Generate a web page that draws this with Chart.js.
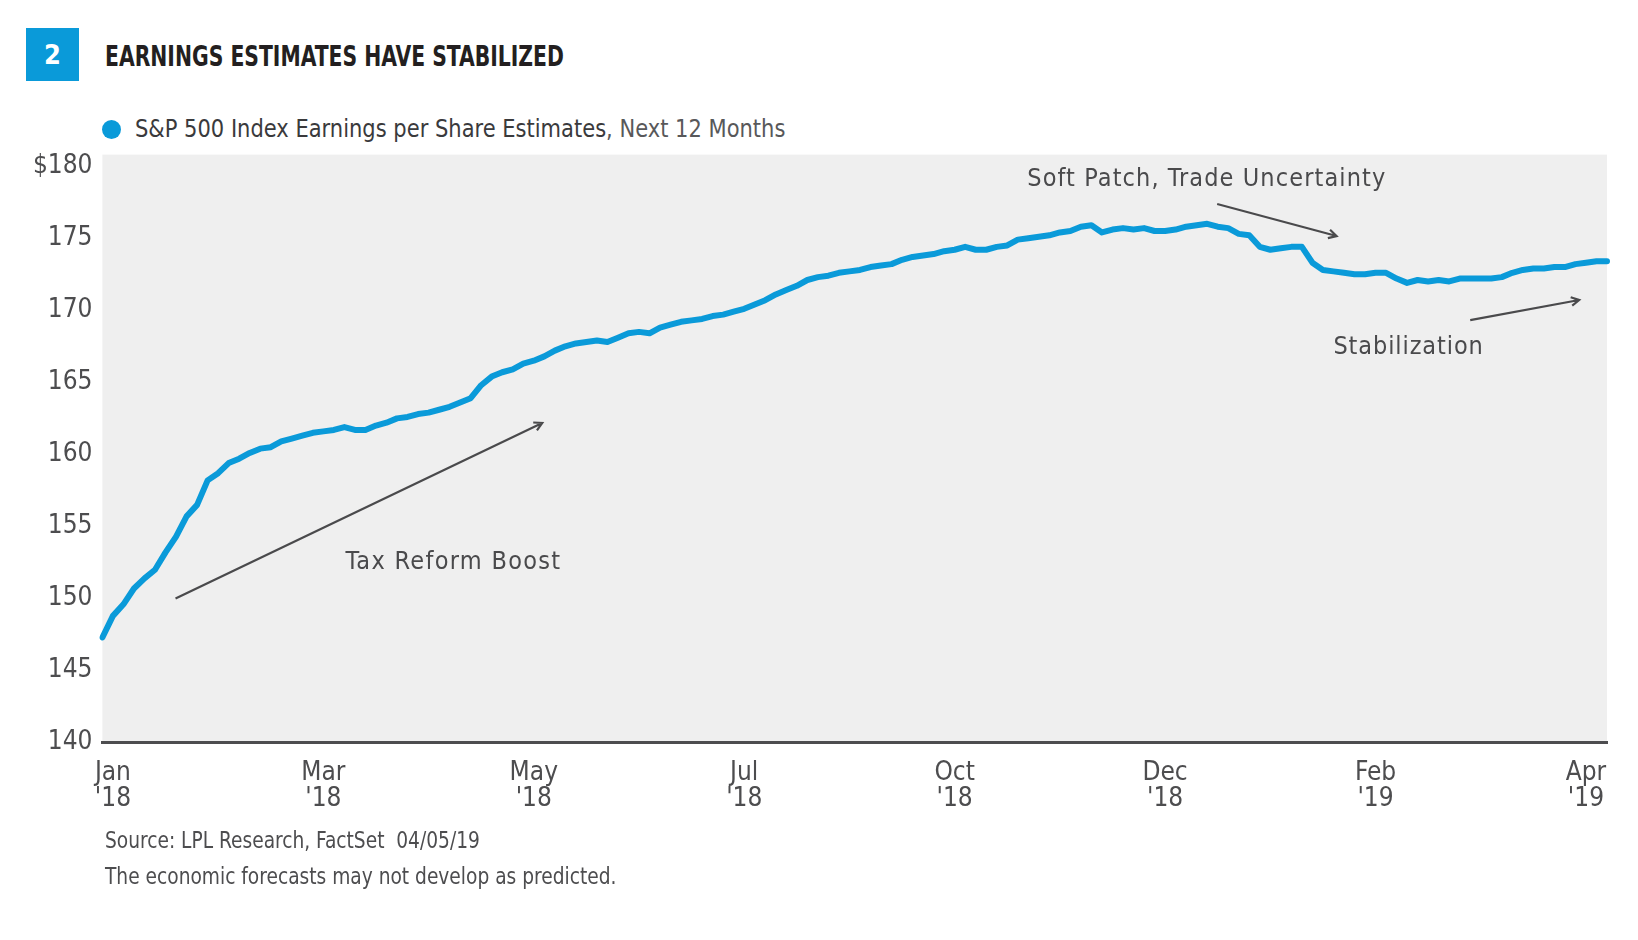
<!DOCTYPE html>
<html>
<head>
<meta charset="utf-8">
<script src="https://cdn.jsdelivr.net/npm/chart.js@4.4.1/dist/chart.umd.min.js"></script>
<style>
    html, body { margin: 0; padding: 0; background: #ffffff; }
    #wrap { position: relative; width: 1638px; height: 940px; overflow: hidden;
            font-family: 'Liberation Sans Narrow', 'DejaVu Sans Condensed', sans-serif; }
    #epsChart { position: absolute; left: 0; top: 0; }
    .badge { position: absolute; left: 26px; top: 28px; width: 53px; height: 53px; background: #0a9ad9;
             color: #fff; font-weight: bold; font-size: 27px; display: flex; align-items: center; justify-content: center; }
    .title { position: absolute; left: 105px; top: 42px; font-size: 29px; line-height: 29px; font-weight: bold;
             color: #231f20; white-space: nowrap; transform: scaleX(0.78); transform-origin: 0 0; }
    .legend { position: absolute; left: 102px; top: 116px; font-size: 25px; line-height: 25px; white-space: nowrap; }
    .legend .dot { display: inline-block; width: 19px; height: 19px; border-radius: 50%; background: #0a9ad9;
                   margin-right: 14px; vertical-align: -2px; }
    .legend .txt { display: inline-block; transform: scaleX(0.935); transform-origin: 0 0; }
    .legend .lg1 { color: #3a3a3c; }
    .legend .lg2 { color: #58585a; }
    .source { position: absolute; left: 105px; top: 822px; font-size: 23px; line-height: 36px; color: #4d4d4f;
              white-space: pre; transform: scaleX(0.9); transform-origin: 0 0; }
</style>
</head>
<body>
<div id="wrap">
    <div class="badge">2</div>
    <div class="title">EARNINGS ESTIMATES HAVE STABILIZED</div>
    <div class="legend"><span class="dot"></span><span class="txt"><span class="lg1">S&amp;P 500 Index Earnings per Share Estimates</span><span class="lg2">, Next 12 Months</span></span></div>
    <canvas id="epsChart" width="1638" height="940"></canvas>
    <div class="source">Source: LPL Research, FactSet  04/05/19
The economic forecasts may not develop as predicted.</div>
</div>

<script>
// Tick labels (one every 20 observations, starting at the 2nd)
const tickMonths = ['Jan', 'Mar', 'May', 'Jul', 'Oct', 'Dec', 'Feb', 'Apr'];
const tickYears = ["'18", "'18", "'18", "'18", "'18", "'18", "'19", "'19"];
const firstTick = 1;
const tickEvery = 20;
const yTicks = [140, 145, 150, 155, 160, 165, 170, 175, 180];

// S&P 500 forward 12m EPS estimates (Jan '18 - Apr '19)
const epsValues = [
    147.3, 148.8, 149.6, 150.7, 151.4, 152.0, 153.2, 154.3, 155.7, 156.5,
    158.2, 158.7, 159.4, 159.7, 160.1, 160.4, 160.5, 160.9, 161.1, 161.3,
    161.5, 161.6, 161.7, 161.9, 161.7, 161.7, 162.0, 162.2, 162.5, 162.6,
    162.8, 162.9, 163.1, 163.3, 163.6, 163.9, 164.8, 165.4, 165.7, 165.9,
    166.3, 166.5, 166.8, 167.2, 167.5, 167.7, 167.8, 167.9, 167.8, 168.1,
    168.4, 168.5, 168.4, 168.8, 169.0, 169.2, 169.3, 169.4, 169.6, 169.7,
    169.9, 170.1, 170.4, 170.7, 171.1, 171.4, 171.7, 172.1, 172.3, 172.4,
    172.6, 172.7, 172.8, 173.0, 173.1, 173.2, 173.5, 173.7, 173.8, 173.9,
    174.1, 174.2, 174.4, 174.2, 174.2, 174.4, 174.5, 174.9, 175.0, 175.1,
    175.2, 175.4, 175.5, 175.8, 175.9, 175.4, 175.6, 175.7, 175.6, 175.7,
    175.5, 175.5, 175.6, 175.8, 175.9, 176.0, 175.8, 175.7, 175.3, 175.2,
    174.4, 174.2, 174.3, 174.4, 174.4, 173.3, 172.8, 172.7, 172.6, 172.5,
    172.5, 172.6, 172.6, 172.2, 171.9, 172.1, 172.0, 172.1, 172.0, 172.2,
    172.2, 172.2, 172.2, 172.3, 172.6, 172.8, 172.9, 172.9, 173.0, 173.0,
    173.2, 173.3, 173.4, 173.4
];

// Annotations, anchored in data space (x = observation index, y = EPS)
const notes = [
    { text: 'Tax Reform Boost', x: 23.1, y: 152.5, spacing: 1.3 },
    { text: 'Soft Patch, Trade Uncertainty', x: 87.9, y: 179.1, spacing: 1.1 },
    { text: 'Stabilization', x: 117.0, y: 167.45, spacing: 0.9 }
];
const arrows = [
    { x0: 6.95, y0: 150.0, x1: 41.8, y1: 162.18 },
    { x0: 105.95, y0: 177.37, x1: 117.3, y1: 175.15 },
    { x0: 130.0, y0: 169.32, x1: 140.36, y1: 170.71 }
];

const colors = {
    line: '#0a9ad9',
    plotBg: '#efefef',
    axis: '#4d4d4f',
    text: '#4d4d4f',
    note: '#4a4a4c'
};
const fontFamily = "'Liberation Sans Narrow', 'DejaVu Sans Condensed', sans-serif";

const xLabels = epsValues.map((v, i) => {
    const k = (i - firstTick) / tickEvery;
    return (Number.isInteger(k) && k >= 0 && k < tickMonths.length) ? [tickMonths[k], tickYears[k]] : '';
});

// Grey plot background
const plotBackground = {
    id: 'plotBackground',
    beforeDraw(chart) {
        const { ctx, chartArea } = chart;
        ctx.save();
        ctx.fillStyle = colors.plotBg;
        ctx.fillRect(chartArea.left, chartArea.top, chartArea.right - chartArea.left, chartArea.bottom - chartArea.top);
        ctx.restore();
    }
};

// Text notes and arrows
const notesPlugin = {
    id: 'notesPlugin',
    afterDatasetsDraw(chart) {
        const { ctx } = chart;
        const xs = chart.scales.x, ys = chart.scales.y;
        ctx.save();
        ctx.strokeStyle = colors.note;
        ctx.lineWidth = 2.2;
        arrows.forEach(a => {
            const x0 = xs.getPixelForValue(a.x0), y0 = ys.getPixelForValue(a.y0);
            const x1 = xs.getPixelForValue(a.x1), y1 = ys.getPixelForValue(a.y1);
            const ang = Math.atan2(y1 - y0, x1 - x0);
            ctx.beginPath();
            ctx.moveTo(x0, y0);
            ctx.lineTo(x1, y1);
            ctx.moveTo(x1 - 9 * Math.cos(ang - 0.5), y1 - 9 * Math.sin(ang - 0.5));
            ctx.lineTo(x1, y1);
            ctx.lineTo(x1 - 9 * Math.cos(ang + 0.5), y1 - 9 * Math.sin(ang + 0.5));
            ctx.stroke();
        });
        ctx.fillStyle = colors.note;
        ctx.font = '25px ' + fontFamily;
        ctx.textBaseline = 'middle';
        ctx.textAlign = 'left';
        notes.forEach(n => {
            if ('letterSpacing' in ctx) ctx.letterSpacing = n.spacing + 'px';
            ctx.fillText(n.text, xs.getPixelForValue(n.x), ys.getPixelForValue(n.y));
        });
        ctx.restore();
    }
};

new Chart(document.getElementById('epsChart'), {
    type: 'line',
    data: {
        labels: xLabels,
        datasets: [{
            label: 'S&P 500 Index Earnings per Share Estimates, Next 12 Months',
            data: epsValues,
            borderColor: colors.line,
            borderWidth: 6,
            pointRadius: 0,
            tension: 0,
            borderJoinStyle: 'round',
            borderCapStyle: 'round',
            fill: false
        }]
    },
    options: {
        responsive: false,
        animation: false,
        layout: {
            padding: { left: 0, top: 154.6, right: 31, bottom: 117.3 }
        },
        plugins: {
            legend: { display: false },
            tooltip: { enabled: false }
        },
        scales: {
            x: {
                type: 'category',
                offset: false,
                grid: { display: false, drawTicks: false },
                border: { display: true, color: colors.axis, width: 3 },
                ticks: {
                    autoSkip: false,
                    maxRotation: 0,
                    padding: 18,
                    color: colors.text,
                    font: { family: fontFamily, size: 26, lineHeight: 1.0 }
                },
                afterFit(scale) { scale.height = 80; }
            },
            y: {
                min: 140,
                max: 180.8,
                grid: { display: false, drawTicks: false },
                border: { display: false },
                ticks: {
                    padding: 10,
                    color: colors.text,
                    font: { family: fontFamily, size: 26 },
                    callback: v => (v === 180 ? '$180' : v)
                },
                afterBuildTicks(scale) {
                    scale.ticks = yTicks.map(v => ({ value: v }));
                },
                afterFit(scale) { scale.width = 102.4; }
            }
        }
    },
    plugins: [plotBackground, notesPlugin]
});
</script>
</body>
</html>
